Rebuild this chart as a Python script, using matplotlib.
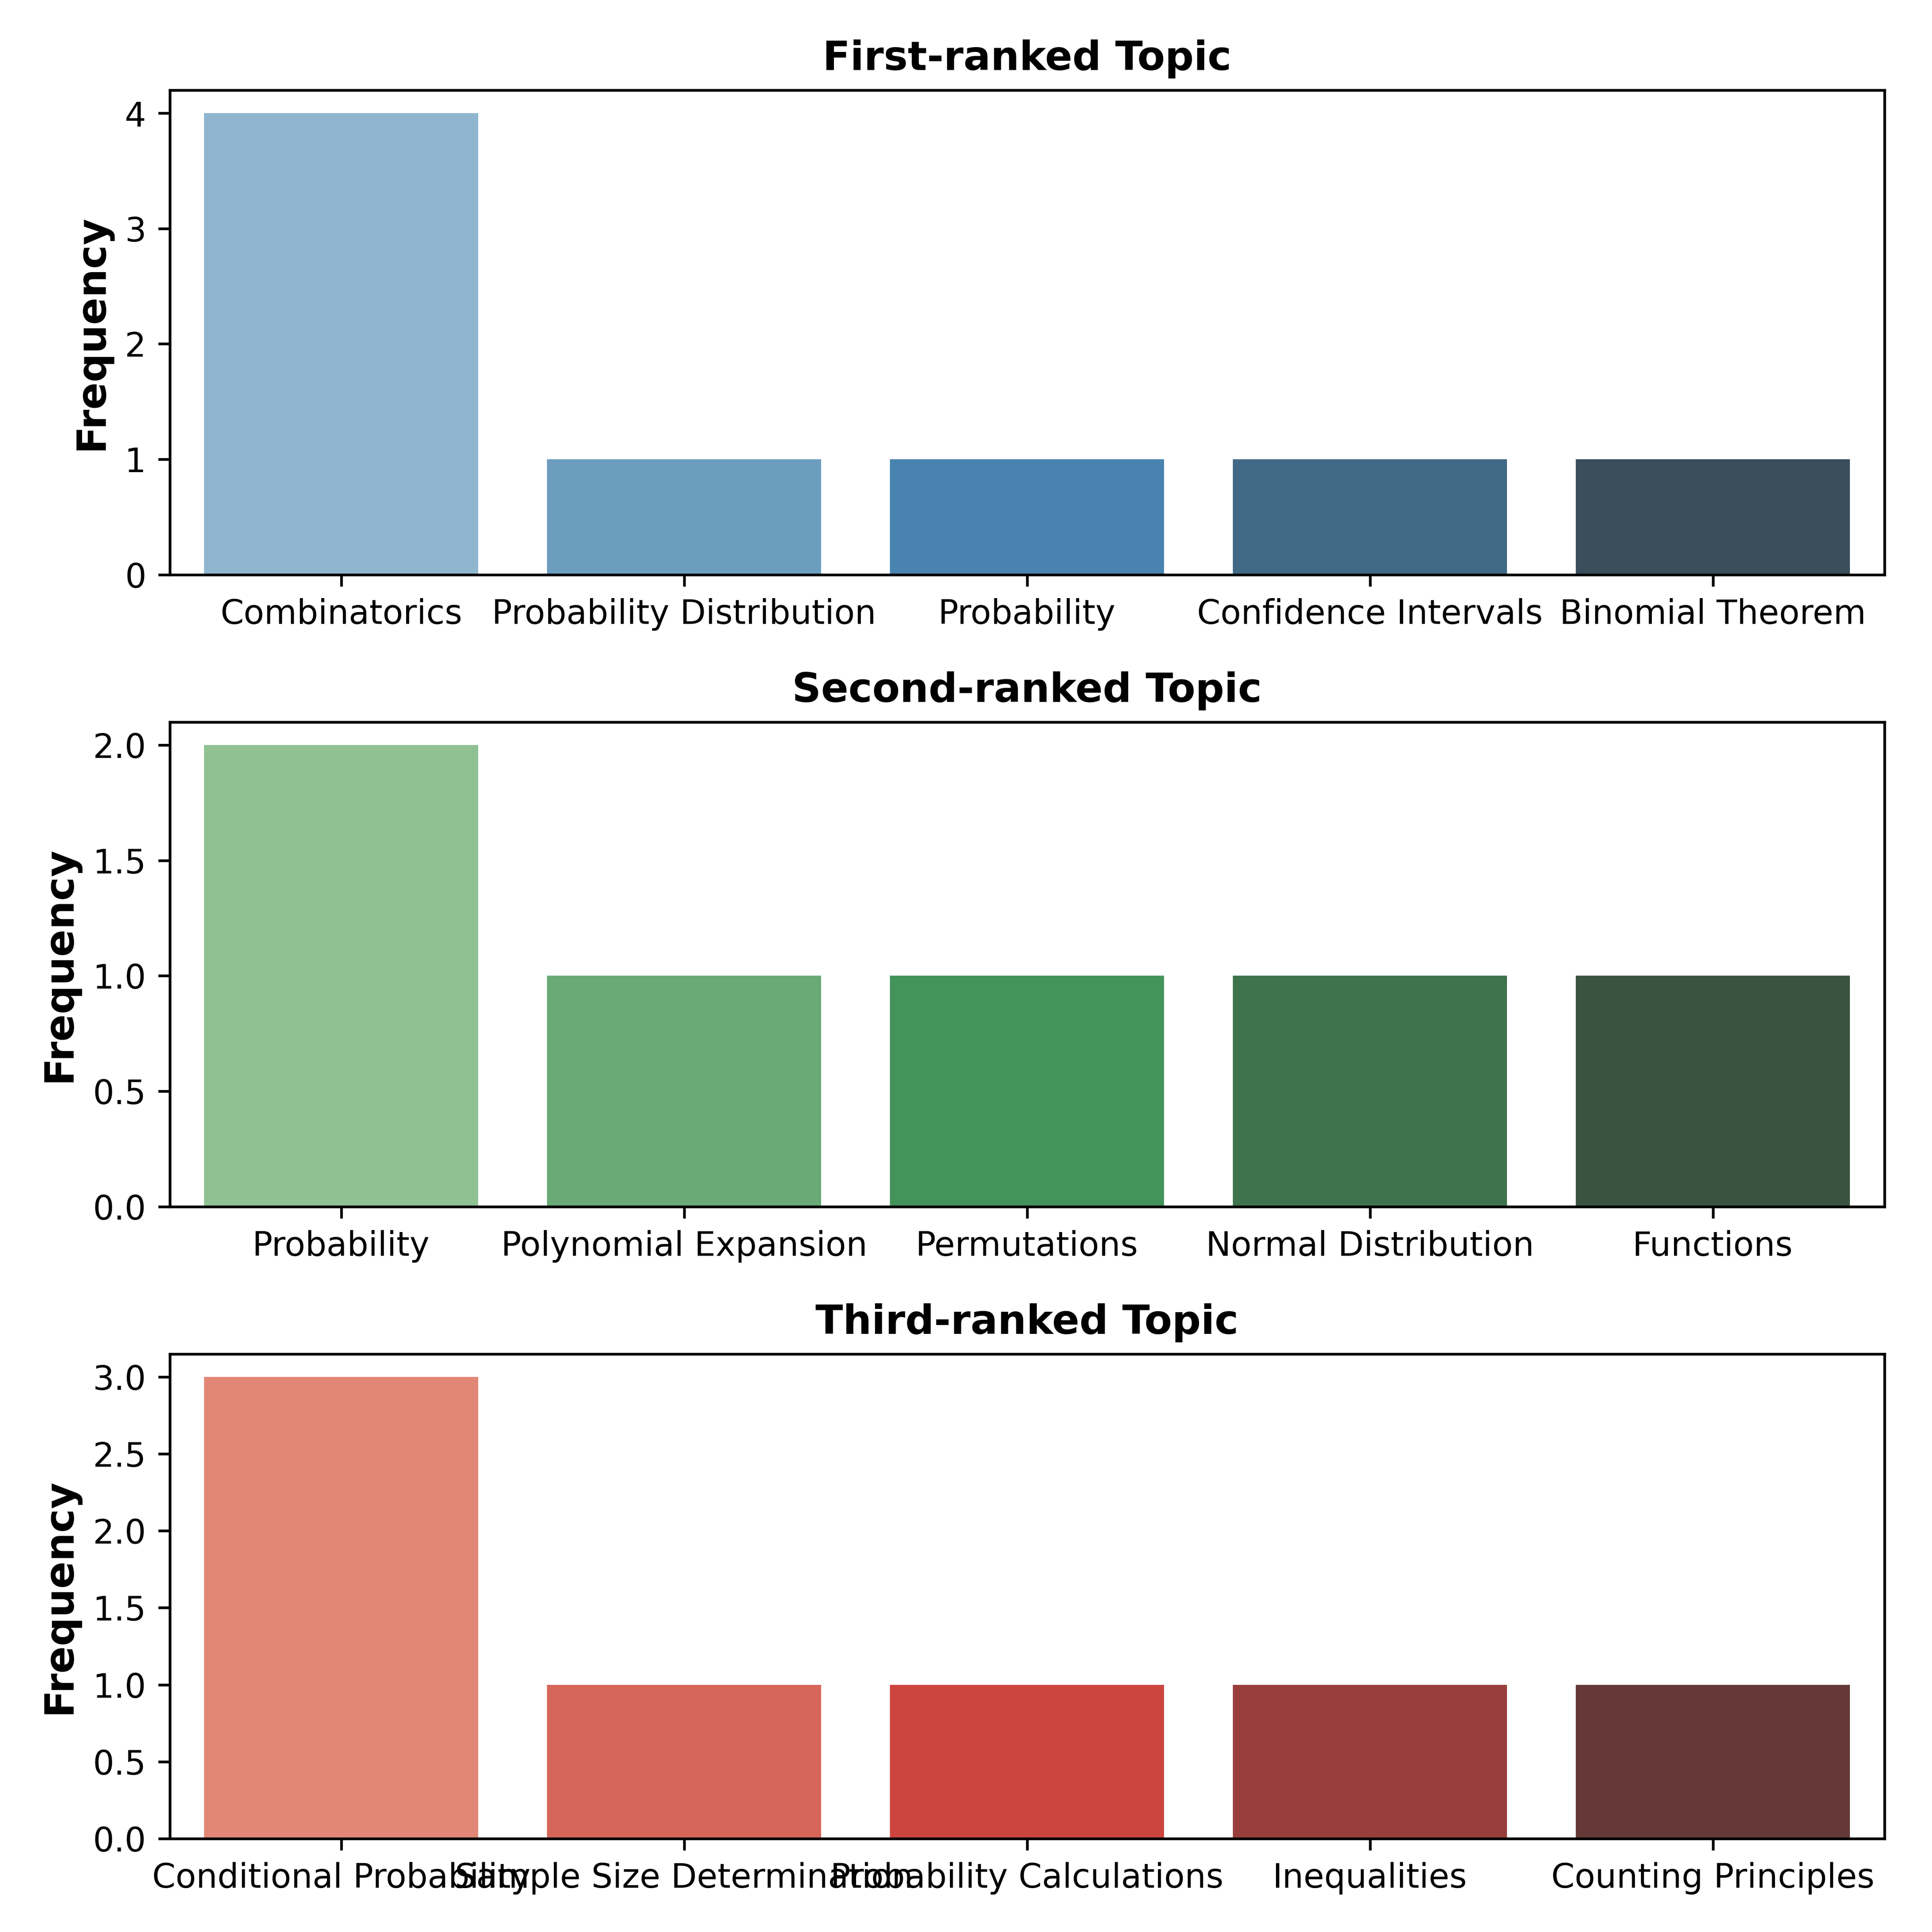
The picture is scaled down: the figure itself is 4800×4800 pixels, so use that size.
import numpy as np
import matplotlib
matplotlib.use('Agg')
import matplotlib.pyplot as plt
import seaborn as sns

# topic counts per rank
first_topics = ['Combinatorics', 'Probability Distribution', 'Probability',
                'Confidence Intervals', 'Binomial Theorem']
first_counts = [4, 1, 1, 1, 1]

second_topics = ['Probability', 'Polynomial Expansion', 'Permutations',
                 'Normal Distribution', 'Functions']
second_counts = [2, 1, 1, 1, 1]

third_topics = ['Conditional Probability', 'Sample Size Determination',
                'Probability Calculations', 'Inequalities', 'Counting Principles']
third_counts = [3, 1, 1, 1, 1]

titles = ['First-ranked Topic', 'Second-ranked Topic', 'Third-ranked Topic']
palettes = ['Blues_d', 'Greens_d', 'Reds_d']

fig, axes = plt.subplots(3, 1, figsize=(8, 8))

data = [(first_topics, first_counts), (second_topics, second_counts),
        (third_topics, third_counts)]

for ax, (topics, counts), title, pal in zip(axes, data, titles, palettes):
    sns.barplot(x=topics, y=counts, hue=topics, palette=pal, legend=False, ax=ax)
    ax.set_title(title, fontsize=12, fontweight='bold')
    ax.set_ylabel('Frequency', fontsize=12, fontweight='bold')
    ax.set_xlabel('')

plt.tight_layout()
plt.savefig('out.png', dpi=600)
